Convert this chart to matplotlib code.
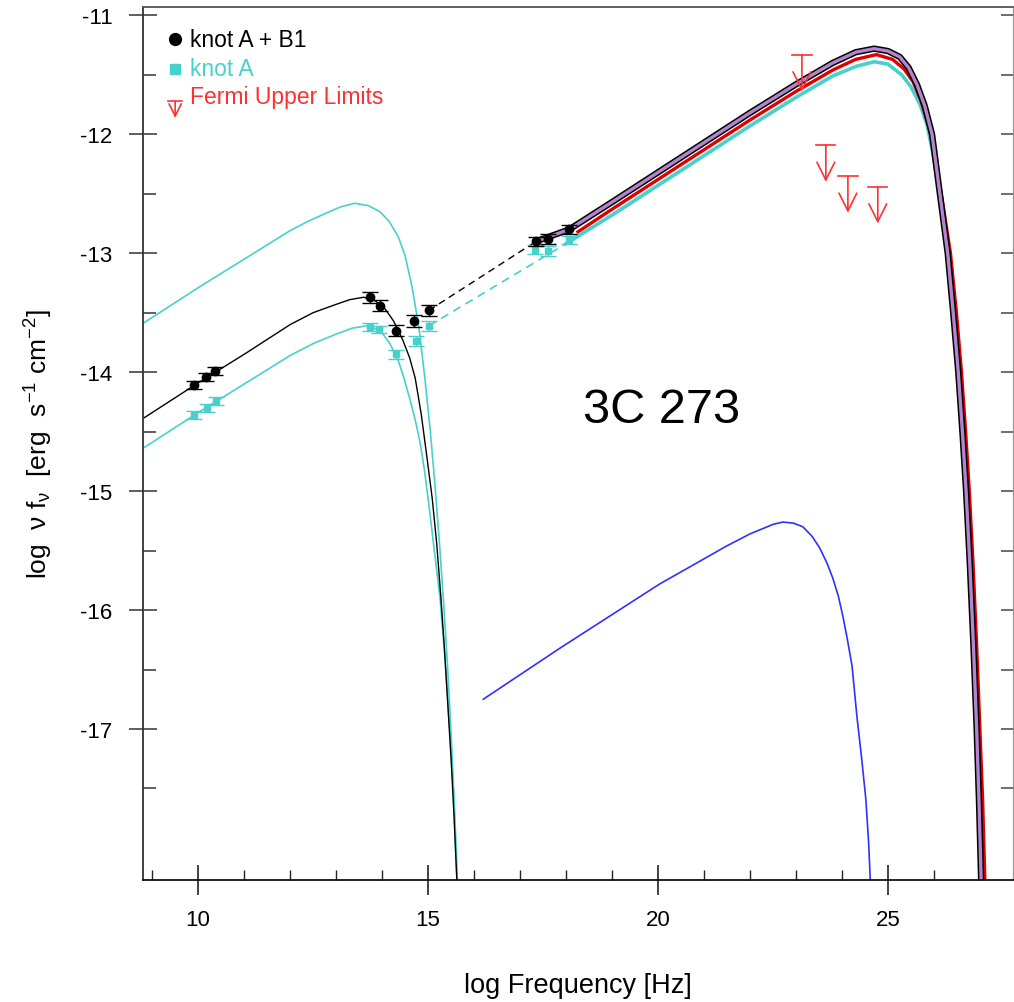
import numpy as np
import matplotlib.pyplot as plt
from matplotlib.ticker import FixedLocator

plt.rcParams['font.family'] = ['Liberation Sans', 'DejaVu Sans']
plt.rcParams['mathtext.fontset'] = 'custom'
plt.rcParams['mathtext.rm'] = 'Liberation Sans'
plt.rcParams['mathtext.it'] = 'Liberation Sans:italic'
plt.rcParams['axes.unicode_minus'] = False

# --- data points (log nu, log nuFnu, error) ---
knotAB1_x = [9.91, 10.17, 10.37, 13.74, 13.96, 14.30, 14.70, 15.02, 17.35, 17.60, 18.07]
knotAB1_y = [-14.11, -14.04, -13.99, -13.37, -13.44, -13.65, -13.57, -13.48, -12.90, -12.88, -12.80]
knotAB1_err = [0.035, 0.035, 0.035, 0.045, 0.045, 0.05, 0.05, 0.045, 0.04, 0.04, 0.035]

knotA_x = [9.91, 10.20, 10.39, 13.74, 13.93, 14.30, 14.74, 15.02, 17.33, 17.61, 18.07]
knotA_y = [-14.36, -14.30, -14.24, -13.62, -13.64, -13.85, -13.74, -13.61, -12.97, -12.98, -12.89]
knotA_err = [0.035, 0.035, 0.035, 0.03, 0.03, 0.04, 0.04, 0.04, 0.04, 0.04, 0.035]

# Fermi upper limits
ul_x = [23.13, 23.65, 24.13, 24.78]
ul_y = [-11.33, -12.09, -12.35, -12.44]

# --- model curves ---
syncA_hi_x = [8.8, 10.0, 11.0, 12.0, 12.4, 12.8, 13.1, 13.4, 13.7, 13.95, 14.15, 14.35, 14.5,
              14.65, 14.8, 14.93, 15.05, 15.15, 15.25, 15.34, 15.42, 15.49, 15.55, 15.6, 15.64]
syncA_hi_y = [-13.59, -13.29, -13.05, -12.81, -12.73, -12.66, -12.61, -12.58, -12.60, -12.65,
              -12.73, -12.86, -13.02, -13.28, -13.62, -14.05, -14.50, -14.95, -15.45, -15.95,
              -16.45, -16.95, -17.45, -17.90, -18.30]

syncAB_x = [8.8, 10.0, 11.0, 12.0, 12.5, 13.0, 13.3, 13.6, 13.85, 14.05, 14.25, 14.45, 14.6,
            14.72, 14.85, 14.97, 15.09, 15.19, 15.28, 15.36, 15.43, 15.5, 15.56, 15.63]
syncAB_y = [-14.39, -14.09, -13.85, -13.60, -13.50, -13.43, -13.39, -13.37, -13.40, -13.46,
            -13.57, -13.73, -13.88, -14.05, -14.35, -14.70, -15.06, -15.45, -15.90, -16.35,
            -16.80, -17.25, -17.70, -18.30]

syncA_lo_x = [8.8, 10.0, 11.0, 12.0, 12.5, 13.0, 13.35, 13.67, 13.96, 14.17, 14.35, 14.46,
              14.6, 14.72, 14.83, 14.92, 15.0, 15.13, 15.26, 15.35, 15.43, 15.5, 15.56, 15.63]
syncA_lo_y = [-14.64, -14.34, -14.10, -13.86, -13.76, -13.68, -13.63, -13.61, -13.65, -13.76,
              -13.90, -14.03, -14.22, -14.40, -14.60, -14.82, -15.06, -15.48, -15.90, -16.32,
              -16.75, -17.17, -17.59, -18.30]

dashAB_x = [15.02, 17.35]
dashAB_y = [-13.48, -12.90]
dashA_x = [15.02, 18.0]
dashA_y = [-13.61, -12.92]

icAB_x = [17.35, 18.07, 19.0, 20.0, 21.0, 22.0, 23.0, 23.8, 24.3, 24.7, 25.0, 25.26, 25.45,
          25.63, 25.8, 25.96, 26.13, 26.30, 26.42, 26.53, 26.62, 26.70, 26.78, 26.86, 26.93,
          26.98, 27.03]
icAB_y = [-12.90, -12.80, -12.57, -12.32, -12.07, -11.82, -11.58, -11.40, -11.31, -11.28,
          -11.30, -11.35, -11.44, -11.58, -11.76, -12.00, -12.50, -13.00, -13.50, -14.00,
          -14.50, -15.00, -15.60, -16.30, -17.00, -17.60, -18.30]

icRed_x = [18.26, 19.0, 20.0, 21.0, 22.0, 23.0, 23.8, 24.3, 24.75, 25.1, 25.35, 25.55, 25.72,
           25.9, 26.05, 26.2, 26.36, 26.49, 26.6, 26.69, 26.77, 26.85, 26.93, 27.0, 27.06, 27.11]
icRed_y = [-12.82, -12.63, -12.38, -12.13, -11.88, -11.64, -11.46, -11.37, -11.33, -11.37,
           -11.45, -11.56, -11.72, -11.95, -12.25, -12.60, -13.00, -13.50, -14.00, -14.50,
           -15.00, -15.60, -16.30, -17.00, -17.60, -18.30]

icA_x = [18.0, 19.0, 20.0, 21.0, 22.0, 23.0, 23.8, 24.3, 24.7, 25.0, 25.3, 25.5, 25.7, 25.85,
         26.0, 26.13, 26.30, 26.42, 26.53, 26.62, 26.70, 26.78, 26.86, 26.93, 26.98, 27.03]
icA_y = [-12.92, -12.68, -12.43, -12.18, -11.93, -11.69, -11.51, -11.43, -11.39, -11.41,
         -11.50, -11.60, -11.75, -11.92, -12.20, -12.50, -13.00, -13.50, -14.00, -14.50,
         -15.00, -15.60, -16.30, -17.00, -17.60, -18.30]

blue_x = [16.20, 17.87, 20.04, 21.50, 22.0, 22.5, 22.72, 22.95, 23.15, 23.35, 23.52, 23.68,
          23.80, 23.92, 24.02, 24.12, 24.22, 24.33, 24.43, 24.52, 24.58, 24.62]
blue_y = [-16.75, -16.32, -15.78, -15.46, -15.36, -15.28, -15.26, -15.27, -15.30, -15.38,
          -15.48, -15.61, -15.73, -15.88, -16.05, -16.25, -16.47, -16.91, -17.25, -17.59,
          -17.95, -18.30]

cyan = '#48d1cc'
purple = '#b484cc'
fermi_red = '#ff3030'

fig = plt.figure(figsize=(10.14, 10.03), dpi=100)
ax = fig.add_axes([0.141, 0.1216, 0.858, 0.8704])

# synchrotron
ax.plot(syncA_hi_x, syncA_hi_y, color=cyan, lw=1.2)
ax.plot(syncA_lo_x, syncA_lo_y, color=cyan, lw=1.2)
ax.plot(syncAB_x, syncAB_y, color='black', lw=1.0)

# dashed connections
ax.plot(dashA_x, dashA_y, color=cyan, lw=1.2, ls=(0, (5, 3.5)))
ax.plot(dashAB_x, dashAB_y, color='black', lw=1.0, ls=(0, (5, 3.5)))

# IC components
ax.plot(icA_x, icA_y, color=cyan, lw=2.6)
ax.plot(icRed_x, icRed_y, color='#e00000', lw=2.4)
ax.plot(icAB_x, icAB_y, color='black', lw=4.6)
ax.plot(icAB_x, icAB_y, color=purple, lw=2.4)

ax.plot(blue_x, blue_y, color='#3030ff', lw=1.2)

# data points
ax.errorbar(knotA_x, knotA_y, yerr=knotA_err, fmt='s', color=cyan, ms=4.5,
            capsize=6, elinewidth=1.0, capthick=1.0, zorder=5)
ax.errorbar(knotAB1_x, knotAB1_y, yerr=knotAB1_err, fmt='o', color='black', ms=6,
            capsize=6, elinewidth=1.0, capthick=1.0, zorder=6)

# upper limits
for x, y in zip(ul_x, ul_y):
    ax.plot([x - 0.21, x + 0.21], [y, y], color=fermi_red, lw=1.2)
    ax.annotate('', xy=(x, y - 0.31), xytext=(x, y),
                arrowprops=dict(arrowstyle='->', color=fermi_red, lw=1.2,
                                mutation_scale=32, shrinkA=0, shrinkB=0))

# legend (manual)
ax.plot([0.037], [0.963], 'o', color='black', ms=8.5, transform=ax.transAxes)
ax.text(0.054, 0.963, 'knot A + B1', color='black', fontsize=16.5,
        va='center', ha='left', transform=ax.transAxes)
ax.plot([0.037], [0.929], 's', color=cyan, ms=7, transform=ax.transAxes)
ax.text(0.054, 0.930, 'knot A', color=cyan, fontsize=16.5,
        va='center', ha='left', transform=ax.transAxes)
ax.plot([0.029, 0.045], [0.892, 0.892], color=fermi_red, lw=1.2, transform=ax.transAxes)
ax.annotate('', xy=(0.037, 0.873), xytext=(0.037, 0.892), xycoords='axes fraction',
            arrowprops=dict(arrowstyle='->', color=fermi_red, lw=1.2,
                            mutation_scale=22, shrinkA=0, shrinkB=0))
ax.text(0.054, 0.898, 'Fermi Upper Limits', color=fermi_red, fontsize=16.5,
        va='center', ha='left', transform=ax.transAxes)

ax.text(20.08, -14.31, '3C 273', fontsize=35, ha='center', va='center')

ax.set_xlim(8.8, 27.72)
ax.set_ylim(-18.27, -10.93)

ax.xaxis.set_major_locator(FixedLocator([10, 15, 20, 25]))
ax.xaxis.set_minor_locator(FixedLocator([9, 11, 12, 13, 14, 16, 17, 18, 19, 21, 22, 23, 24, 26, 27]))
ax.yaxis.set_major_locator(FixedLocator([-17, -16, -15, -14, -13, -12, -11]))
ax.yaxis.set_minor_locator(FixedLocator([-17.5, -16.5, -15.5, -14.5, -13.5, -12.5, -11.5]))

ax.tick_params(axis='x', which='major', direction='inout', length=22, width=1.2,
               labelsize=16, pad=10, color='#222222')
ax.tick_params(axis='x', which='minor', direction='in', length=7, width=1.0, color='#222222')
ax.tick_params(axis='y', which='major', direction='inout', length=20, width=1.2,
               labelsize=16, pad=12, color='#444444')
ax.tick_params(axis='y', which='minor', direction='in', length=9, width=1.2, color='#444444')

sec = ax.secondary_yaxis('right')
sec.yaxis.set_major_locator(FixedLocator([-17, -16, -15, -14, -13, -12, -11]))
sec.yaxis.set_minor_locator(FixedLocator([-17.5, -16.5, -15.5, -14.5, -13.5, -12.5, -11.5]))
sec.tick_params(which='both', direction='in', length=9, width=1.2, color='#555555',
                labelright=False)
sec.spines['right'].set_color('#999999')

for s in ['left', 'bottom']:
    ax.spines[s].set_linewidth(1.3)
ax.spines['left'].set_color('#333333')
ax.spines['bottom'].set_color('#111111')
ax.spines['top'].set_color('#555555')
ax.spines['top'].set_linewidth(1.3)
ax.spines['right'].set_color('#999999')

ax.set_xlabel('log Frequency [Hz]', fontsize=19.5, labelpad=30)
ax.set_ylabel('log  ν f$_\\mathrm{ν}$  [erg  s$^{-1}$ cm$^{-2}$]', fontsize=19, labelpad=18)

fig.savefig('out.png', dpi=100)
